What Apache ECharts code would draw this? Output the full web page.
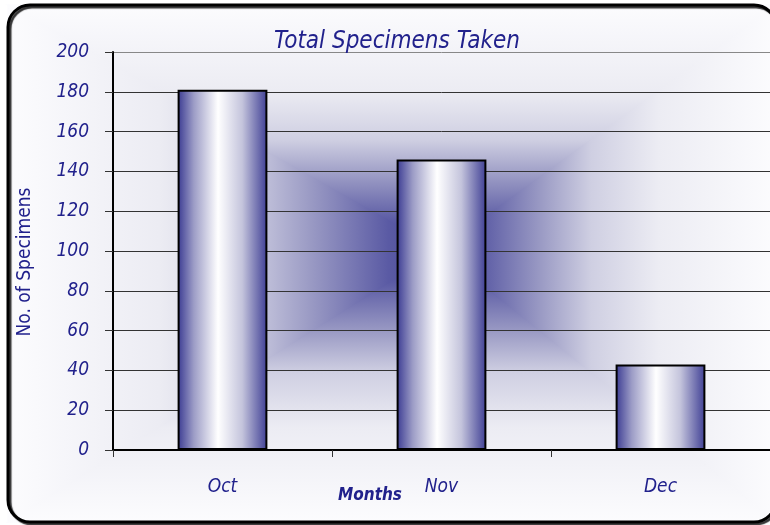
<!DOCTYPE html>
<html>
<head>
<meta charset="utf-8">
<script src="https://cdn.jsdelivr.net/npm/echarts@6/dist/echarts.min.js"></script>
<style>
  html, body { margin: 0; padding: 0; background: #fff; }
  #chart-root { width: 770px; height: 525px; }
</style>
</head>
<body>
<div id="chart-root"></div>
<script>
// data
let months = ['Oct', 'Nov', 'Dec']
let specimens = [181, 146, 43]
let yTicks = [0, 20, 40, 60, 80, 100, 120, 140, 160, 180, 200]

let navy = '#21218c'
let font = "'Liberation Sans Narrow', 'DejaVu Sans Condensed', 'Noto Sans', sans-serif"

// colour stops of the "from centre" fill, t = 0 at the centre
let bgStops = [
  [0, '#46469a'],
  [0.12, '#5a5aa4'],
  [0.3, '#9a9ac4'],
  [0.45, '#cfcfe2'],
  [0.65, '#ececf3'],
  [1, '#fcfcfe']
]

function stops (fromCentre) {
  return bgStops.map(([t, c]) => ({offset: fromCentre ? t : 1 - t, color: c}))
}

function grad (x2, y2, fromCentre) {
  return {type: 'linear', x: 0, y: 0, x2: x2, y2: y2, colorStops: stops(fromCentre)}
}

// one triangle of the background, stroked with its own fill to hide the seams
function tri (points, x2, y2, fromCentre) {
  return {
    type: 'polygon',
    z: -10,
    shape: {points: points},
    style: {fill: grad(x2, y2, fromCentre), stroke: grad(x2, y2, fromCentre), lineWidth: 1.5}
  }
}

let chart = echarts.init(document.getElementById('chart-root'))

// frame box and centre of the background fill
let L = 8, T = 5, R = 776, B = 522, cx = 440, cy = 250

let option = {
  animation: false,
  textStyle: {fontFamily: font},
  graphic: [
    tri([[L, T], [R, T], [cx, cy]], 0, 1, false),
    tri([[L, B], [R, B], [cx, cy]], 0, 1, true),
    tri([[L, T], [L, B], [cx, cy]], 1, 0, false),
    tri([[R, T], [R, B], [cx, cy]], 1, 0, true),
    {
      type: 'rect', z: -5,
      shape: {x: L, y: T, width: R - L, height: B - T, r: 22},
      style: {
        fill: null, stroke: '#000', lineWidth: 3,
        shadowColor: 'rgba(0,0,0,0.8)', shadowOffsetX: 2, shadowOffsetY: 2, shadowBlur: 1
      }
    }
  ],
  title: [
    {
      text: 'Total Specimens Taken',
      left: 392,
      textAlign: 'center',
      top: 25,
      textStyle: {color: navy, fontSize: 24, fontStyle: 'italic', fontWeight: 'normal', fontFamily: font}
    },
    {
      text: 'Months',
      left: 365,
      textAlign: 'center',
      top: 482,
      textStyle: {color: navy, fontSize: 17, fontStyle: 'italic', fontWeight: 'bold', fontFamily: font}
    }
  ],
  grid: {
    left: 113,
    right: 0,
    top: 52,
    bottom: 75
  },
  xAxis: {
    type: 'category',
    data: months,
    axisLine: {lineStyle: {color: '#000', width: 2}},
    axisTick: {show: true, length: 7, lineStyle: {color: '#333', width: 1}},
    axisLabel: {
      margin: 28,
      color: navy,
      fontSize: 19,
      fontStyle: 'italic',
      fontFamily: font
    }
  },
  yAxis: {
    type: 'value',
    min: yTicks[0],
    max: yTicks[yTicks.length - 1],
    interval: 20,
    name: 'No. of Specimens',
    nameLocation: 'middle',
    nameGap: 78,
    nameTextStyle: {color: navy, fontSize: 19, fontWeight: 'normal', fontFamily: font, padding: [0, 22, 0, 0]},
    axisLine: {show: true, lineStyle: {color: '#000', width: 2}},
    axisTick: {show: true, length: 8, lineStyle: {color: '#333', width: 1}},
    axisLabel: {
      margin: 24,
      color: navy,
      fontSize: 19,
      fontStyle: 'italic',
      fontFamily: font
    },
    splitLine: {
      show: true,
      lineStyle: {
        color: ['#333', '#333', '#333', '#333', '#333', '#333', '#333', '#333', '#333', '#333', '#888'],
        width: 1
      }
    }
  },
  series: [
    {
      name: 'Specimens',
      type: 'bar',
      data: specimens,
      barWidth: '41%',
      itemStyle: {
        borderColor: '#000',
        borderWidth: 2,
        color: {
          type: 'linear', x: 0, y: 0, x2: 1, y2: 0,
          colorStops: [
            {offset: 0, color: '#3a3a92'},
            {offset: 0.18, color: '#9c9cc6'},
            {offset: 0.45, color: '#ffffff'},
            {offset: 0.72, color: '#c4c4dc'},
            {offset: 1, color: '#3e3e94'}
          ]
        }
      }
    }
  ]
}

chart.setOption(option)
</script>
</body>
</html>
